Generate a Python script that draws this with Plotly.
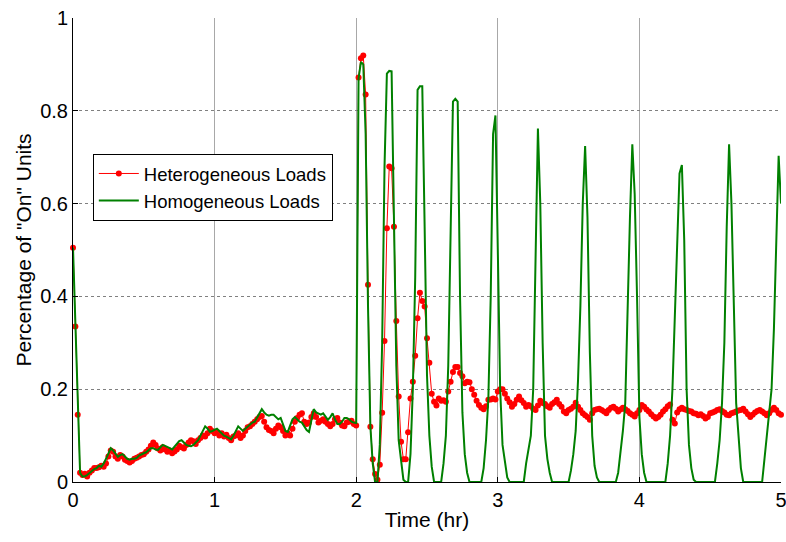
import plotly.graph_objects as go

# time axis: one sample per minute over 5 hours
n_samples = 301
time_hr = [k / 60 for k in range(n_samples)]

heterogeneous = [
    0.505, 0.335, 0.145, 0.02, 0.015, 0.018, 0.012, 0.02, 0.025, 0.03,
    0.03, 0.032, 0.035, 0.033, 0.04, 0.055, 0.068, 0.065, 0.055, 0.05,
    0.058, 0.055, 0.048, 0.045, 0.042, 0.045, 0.05, 0.052, 0.055, 0.058,
    0.06, 0.065, 0.07, 0.078, 0.085, 0.08, 0.072, 0.068, 0.075, 0.07,
    0.065, 0.068, 0.062, 0.066, 0.07, 0.078, 0.075, 0.072, 0.08, 0.085,
    0.09, 0.088, 0.082, 0.09, 0.095, 0.1, 0.098, 0.105, 0.115, 0.11,
    0.105, 0.108, 0.1, 0.105, 0.098, 0.102, 0.095, 0.09, 0.098, 0.1,
    0.105, 0.095, 0.1, 0.11, 0.118, 0.12, 0.125, 0.13, 0.135, 0.14,
    0.142, 0.13, 0.118, 0.112, 0.11, 0.105, 0.115, 0.122, 0.118, 0.11,
    0.1, 0.105, 0.1, 0.115, 0.13, 0.138, 0.145, 0.148, 0.13, 0.125,
    0.128, 0.14, 0.148, 0.14, 0.128, 0.132, 0.135, 0.13, 0.125, 0.12,
    0.125, 0.135, 0.138, 0.128, 0.122, 0.12, 0.128, 0.13, 0.132, 0.125,
    0.122, 0.872, 0.913, 0.919, 0.835, 0.425, 0.119, 0.049, 0.017, 0.005,
    0.037, 0.149, 0.304, 0.547, 0.68, 0.676, 0.55, 0.347, 0.184, 0.087,
    0.049, 0.049, 0.107, 0.18, 0.216, 0.272, 0.353, 0.408, 0.39, 0.378,
    0.31, 0.257, 0.19, 0.173, 0.165, 0.18, 0.175, 0.176, 0.173, 0.195,
    0.216, 0.237, 0.248, 0.248, 0.235, 0.228, 0.213, 0.216, 0.215, 0.2,
    0.188, 0.175, 0.166, 0.16, 0.157, 0.163, 0.177, 0.178, 0.18, 0.178,
    0.195, 0.2, 0.2, 0.19, 0.18, 0.172, 0.162, 0.168, 0.177, 0.184,
    0.176, 0.17, 0.162, 0.166, 0.163, 0.158, 0.155, 0.165, 0.175, 0.17,
    0.168, 0.163, 0.16, 0.168, 0.172, 0.177, 0.168, 0.162, 0.152, 0.148,
    0.155, 0.158, 0.162, 0.171, 0.162, 0.155, 0.148, 0.144, 0.14, 0.134,
    0.148, 0.155, 0.157, 0.158, 0.155, 0.152, 0.148, 0.155, 0.16, 0.162,
    0.158, 0.152, 0.156, 0.16, 0.157, 0.153, 0.148, 0.145, 0.141, 0.148,
    0.155, 0.166, 0.162, 0.156, 0.152, 0.146, 0.141, 0.137, 0.14, 0.145,
    0.152, 0.157, 0.163, 0.167, 0.134, 0.126, 0.15, 0.157, 0.16, 0.157,
    0.155, 0.153, 0.152, 0.148, 0.147, 0.144, 0.146, 0.142, 0.137, 0.14,
    0.148, 0.15, 0.152, 0.155, 0.157, 0.153, 0.15, 0.145, 0.144, 0.148,
    0.15, 0.152, 0.154, 0.155, 0.158, 0.152, 0.146, 0.14, 0.145, 0.15,
    0.153, 0.155, 0.152, 0.148, 0.144, 0.148, 0.155, 0.16, 0.155, 0.148,
    0.145,
]

homogeneous = [
    0.505, 0.33, 0.14, 0.02, 0.012, 0.012, 0.015, 0.02, 0.025, 0.028,
    0.03, 0.035, 0.033, 0.04, 0.05, 0.062, 0.073, 0.068, 0.06, 0.054,
    0.058, 0.06, 0.055, 0.05, 0.048, 0.05, 0.05, 0.052, 0.057, 0.06,
    0.062, 0.064, 0.068, 0.073, 0.073, 0.07, 0.069, 0.075, 0.08, 0.078,
    0.076, 0.073, 0.07, 0.075, 0.082, 0.088, 0.09, 0.085, 0.08, 0.078,
    0.077, 0.08, 0.085, 0.09, 0.1, 0.11, 0.12, 0.115, 0.108, 0.11,
    0.112, 0.115, 0.11, 0.105, 0.1, 0.098, 0.095, 0.092, 0.1, 0.11,
    0.12, 0.115, 0.11, 0.115, 0.12, 0.125, 0.128, 0.13, 0.14, 0.15,
    0.157, 0.15, 0.145, 0.143, 0.145, 0.145, 0.14, 0.135, 0.138, 0.125,
    0.11, 0.108, 0.12, 0.135, 0.14, 0.135, 0.13, 0.128, 0.12, 0.112,
    0.108, 0.135, 0.157, 0.15, 0.148, 0.145, 0.148, 0.14, 0.134, 0.14,
    0.148, 0.135, 0.125, 0.125, 0.13, 0.138, 0.138, 0.135, 0.13, 0.128,
    0.127, 0.87, 0.905, 0.9, 0.75, 0.38, 0.12, 0.04, 0.0, 0.0,
    0.08, 0.3, 0.68, 0.88, 0.886, 0.885, 0.55, 0.25, 0.09, 0.04,
    0.005, 0.0, 0.0, 0.06, 0.2, 0.44, 0.845, 0.853, 0.853, 0.55,
    0.23, 0.1, 0.033, 0.0, 0.0, 0.0, 0.0, 0.04, 0.1, 0.25,
    0.55, 0.82, 0.826, 0.82, 0.4, 0.15, 0.06, 0.02, 0.0, 0.0,
    0.0, 0.0, 0.0, 0.0, 0.03, 0.09, 0.18, 0.4, 0.75, 0.79,
    0.5, 0.2, 0.08, 0.04, 0.01, 0.0, 0.0, 0.0, 0.0, 0.0,
    0.0, 0.0, 0.04, 0.075, 0.1, 0.2, 0.45, 0.762, 0.6, 0.3,
    0.1, 0.05, 0.02, 0.0, 0.0, 0.0, 0.0, 0.0, 0.0, 0.0,
    0.0, 0.025, 0.06, 0.11, 0.22, 0.38, 0.6, 0.724, 0.57, 0.28,
    0.1, 0.035, 0.01, 0.0, 0.0, 0.0, 0.0, 0.0, 0.0, 0.0,
    0.0, 0.02, 0.065, 0.11, 0.17, 0.38, 0.57, 0.728, 0.62, 0.4,
    0.14, 0.06, 0.02, 0.0, 0.0, 0.0, 0.0, 0.0, 0.0, 0.0,
    0.0, 0.0, 0.04, 0.1, 0.2, 0.35, 0.52, 0.665, 0.683, 0.52,
    0.2, 0.08, 0.03, 0.005, 0.0, 0.0, 0.0, 0.0, 0.0, 0.0,
    0.0, 0.0, 0.0, 0.04, 0.09, 0.17, 0.3, 0.55, 0.728, 0.6,
    0.4, 0.17, 0.1, 0.03, 0.0, 0.0, 0.0, 0.0, 0.0, 0.0,
    0.0, 0.0, 0.0, 0.05, 0.1, 0.15, 0.2, 0.33, 0.55, 0.703,
    0.6,
]

x_ticks = [0, 1, 2, 3, 4, 5]
x_tick_labels = ["0", "1", "2", "3", "4", "5"]
y_ticks = [0, 0.2, 0.4, 0.6, 0.8, 1]
y_tick_labels = ["0", "0.2", "0.4", "0.6", "0.8", "1"]

FONT = "Liberation Sans, Arial, sans-serif"

fig = go.Figure()
fig.add_trace(go.Scatter(
    x=time_hr, y=heterogeneous, mode="lines+markers",
    name="Heterogeneous Loads",
    line=dict(color="#ff0000", width=1),
    marker=dict(color="#ff0000", size=6),
    cliponaxis=False,
))
fig.add_trace(go.Scatter(
    x=time_hr, y=homogeneous, mode="lines",
    name="Homogeneous Loads",
    line=dict(color="#008000", width=2),
    cliponaxis=False,
))

fig.update_layout(
    width=786, height=542,
    margin=dict(l=73, r=5, t=18, b=60, autoexpand=False),
    paper_bgcolor="white", plot_bgcolor="white",
    font=dict(family=FONT, size=20, color="black"),
    showlegend=True,
    legend=dict(
        x=0.028, y=0.707, xanchor="left", yanchor="top",
        bgcolor="white", bordercolor="black", borderwidth=1,
        font=dict(family=FONT, size=18.5, color="black"),
        tracegroupgap=0, itemwidth=40,
    ),
    xaxis=dict(
        range=[0, 5], tickvals=x_ticks, ticktext=x_tick_labels,
        showline=True, linecolor="black", linewidth=1,
        ticks="inside", ticklen=5, tickcolor="black",
        showgrid=True, gridcolor="#a8a8a8", gridwidth=1,
        zeroline=False, ticklabeloverflow="allow", automargin=False,
        title=dict(text="Time (hr)", font=dict(size=21), standoff=2),
        tickfont=dict(size=20),
    ),
    yaxis=dict(
        range=[0, 1], tickvals=y_ticks, ticktext=y_tick_labels,
        showline=True, linecolor="black", linewidth=1,
        ticks="inside", ticklen=5, tickcolor="black",
        showgrid=True, gridcolor="#808080", gridwidth=1, griddash="dot",
        zeroline=False, ticklabeloverflow="allow", automargin=False,
        title=dict(text='Percentage of "On" Units', font=dict(size=21), standoff=2),
        tickfont=dict(size=20),
    ),
)

fig.write_html("out.html")
